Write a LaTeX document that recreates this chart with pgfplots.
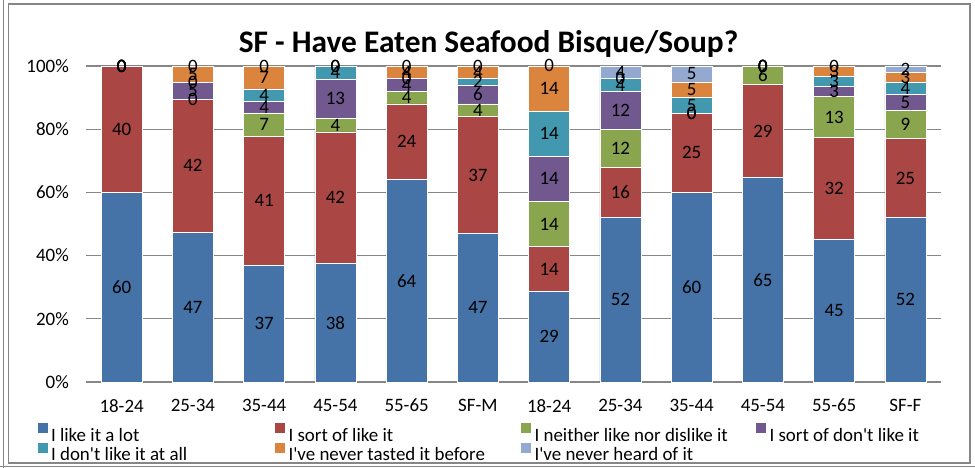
\documentclass[border=0pt]{standalone}
\usepackage{pgfplots}
\pgfplotsset{compat=1.18}
\usepackage{pgfplotstable}
\usepackage{fontspec}
\setmainfont{Carlito}

\definecolor{c1}{HTML}{4572A7}
\definecolor{c2}{HTML}{AA4643}
\definecolor{c3}{HTML}{89A54E}
\definecolor{c4}{HTML}{71588F}
\definecolor{c5}{HTML}{4198AF}
\definecolor{c6}{HTML}{DB843D}
\definecolor{c7}{HTML}{93A9CF}
\definecolor{gridc}{RGB}{134,134,134}

\pgfplotstableread{
x a b c d e f g
0 60 40 0 0 0 0 0
1 47.37 42.11 0 5.26 0 5.26 0
2 37.04 40.74 7.41 3.70 3.70 7.41 0
3 37.5 41.67 4.17 12.5 4.17 0 0
4 64 24 4 4 0 4 0
5 47 37 4 6 2 4 0
6 28.57 14.29 14.29 14.29 14.29 14.29 0
7 52 16 12 12 4 0 4
8 60 25 0 0 5 5 5
9 64.71 29.41 5.88 0 0 0 0
10 45.16 32.26 12.90 3.23 3.23 3.23 0
11 52 25 9 5 4 3 2
}\data

\pgfplotsset{
  common/.style={
    at={(86bp,86bp)}, anchor=south west,
    scale only axis, width=855bp, height=316bp,
    xmin=-0.5, xmax=11.5, ymin=0, ymax=100,
    clip=false,
  },
  lbl/.style={draw=none, no marks, point meta=explicit,
    nodes near coords={\pgfmathprintnumber[fixed,precision=0,assume math mode=true]{\pgfplotspointmeta}},
    every node near coord/.append style={font=\fontsize{19}{22}\selectfont, text=black, anchor=center, inner sep=0pt}},
}

\begin{document}
\begin{tikzpicture}[x=1bp,y=1bp]
\useasboundingbox (0,0) rectangle (975,468);
\draw[gridc,line width=1.5bp] (8.5,5) rectangle (970,464);
\draw[gridc,line width=1.2bp] (3.5,0) -- (3.5,468);
\draw[gridc,line width=1.2bp] (0,1.3) -- (975,1.3);
\node[anchor=base,font=\fontsize{31.5}{36}\selectfont\bfseries] at (488.5,415) {SF - Have Eaten Seafood Bisque/Soup?};
\begin{axis}[
  common,
  ybar stacked, bar width=0.575,
  axis line style={draw=none},
  major tick length=0pt,
  ymajorgrids, major grid style={gridc,line width=1.3bp},
  ytick={0,20,40,60,80,100},
  yticklabels={0\%,20\%,40\%,60\%,80\%,100\%},
  xtick={0,...,11},
  xticklabels={18-24,25-34,35-44,45-54,55-65,SF-M,18-24,25-34,35-44,45-54,55-65,SF-F},
  tick label style={font=\fontsize{19}{22}\selectfont, inner sep=0pt},
  xticklabel style={anchor=north, yshift=-17bp},
  yticklabel style={anchor=east, xshift=-17bp},
  legend columns=4,
  legend style={at={(-0.0567,-0.1297)}, anchor=north west, draw=none, fill=none, inner sep=0pt, outer sep=0pt,
    font=\fontsize{19}{21.5}\selectfont,
    /tikz/every odd column/.append style={column sep=3.5bp},
    nodes={inner sep=0pt}},
  legend image code/.code={\fill[#1,draw=none] (0bp,1.5bp) rectangle (10bp,11.5bp);},
]
\addplot[fill=c1,draw=white,line width=0.5bp] table[x=x,y=a] {\data};
\addlegendentry{\makebox[224bp][l]{\strut I like it a lot}}
\addplot[fill=c2,draw=white,line width=0.5bp] table[x=x,y=b] {\data};
\addlegendentry{\makebox[232.5bp][l]{\strut I sort of like it}}
\addplot[fill=c3,draw=white,line width=0.5bp] table[x=x,y=c] {\data};
\addlegendentry{\makebox[221.5bp][l]{\strut I neither like nor dislike it}}
\addplot[fill=c4,draw=white,line width=0.5bp] table[x=x,y=d] {\data};
\addlegendentry{\strut I sort of don\textquotesingle t like it}
\addplot[fill=c5,draw=white,line width=0.5bp] table[x=x,y=e] {\data};
\addlegendentry{\makebox[224bp][l]{\strut I don\textquotesingle t like it at all}}
\addplot[fill=c6,draw=white,line width=0.5bp] table[x=x,y=f] {\data};
\addlegendentry{\makebox[232.5bp][l]{\strut I\textquotesingle ve never tasted it before}}
\addplot[fill=c7,draw=white,line width=0.5bp] table[x=x,y=g] {\data};
\addlegendentry{\makebox[221.5bp][l]{\strut I\textquotesingle ve never heard of it}}
\end{axis}
\begin{axis}[common, hide axis]
\addplot[lbl] table[x=x,y expr={\thisrow{a}/2},meta=a] {\data};
\addplot[lbl] table[x=x,y expr={\thisrow{a}+\thisrow{b}/2},meta=b] {\data};
\addplot[lbl] table[x=x,y expr={\thisrow{a}+\thisrow{b}+\thisrow{c}/2},meta=c] {\data};
\addplot[lbl] table[x=x,y expr={\thisrow{a}+\thisrow{b}+\thisrow{c}+\thisrow{d}/2},meta=d] {\data};
\addplot[lbl] table[x=x,y expr={\thisrow{a}+\thisrow{b}+\thisrow{c}+\thisrow{d}+\thisrow{e}/2},meta=e] {\data};
\addplot[lbl] table[x=x,y expr={\thisrow{a}+\thisrow{b}+\thisrow{c}+\thisrow{d}+\thisrow{e}+\thisrow{f}/2},meta=f] {\data};
\addplot[lbl] table[x=x,y expr={\thisrow{a}+\thisrow{b}+\thisrow{c}+\thisrow{d}+\thisrow{e}+\thisrow{f}+\thisrow{g}/2},meta=g] {\data};
\end{axis}
\end{tikzpicture}
\end{document}
